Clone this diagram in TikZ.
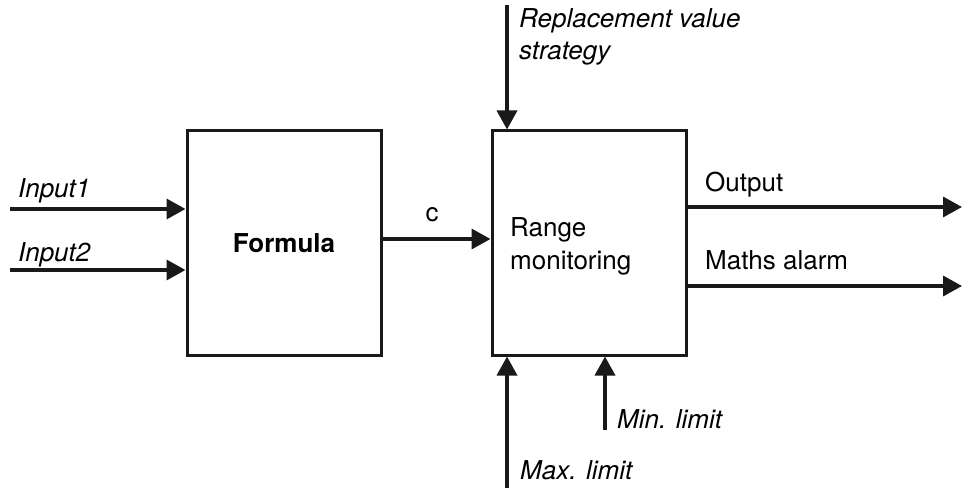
\documentclass[tikz,border=0pt]{standalone}
\usepackage{fontspec}
\setmainfont{TeX Gyre Heros}
\usetikzlibrary{arrows.meta}
\begin{document}
\begin{tikzpicture}[x=1pt,y=1pt,
  blk/.style={draw=black!90,line width=3pt,minimum width=194pt,minimum height=224pt,inner sep=0pt},
  arr/.style={line width=3.5pt,draw=black!90,-{Triangle[length=19pt,width=20pt]}},
  lbl/.style={anchor=base west,inner sep=0pt,font=\fontsize{26}{32}\selectfont},
  lbli/.style={lbl,font=\fontsize{26}{32}\selectfont\itshape}]
\useasboundingbox (0,0) rectangle (966,493);
\node[blk,font=\fontsize{26}{32}\selectfont\bfseries] (formula) at (284,250) {Formula};
\node[blk] (range) at (589,250) {};
\node[lbl] (rangetxt) at (510,256) {Range};
\node[lbl] (montxt) at (510,223) {monitoring};
% inputs
\coordinate (in1) at (10,284);
\coordinate (in2) at (10,223);
\draw[arr] (in1) -- (in1 -| formula.west);
\draw[arr] (in2) -- (in2 -| formula.west);
\node[lbli] (t1) at (18,295) {Input1};
\node[lbli] (t2) at (18,231) {Input2};
% c
\coordinate (cc) at (formula.east |- 0,254);
\draw[arr] (cc) -- (cc -| range.west);
\node[lbl,anchor=base] (ct) at (432,271) {c};
% replacement
\coordinate (rep) at (507,488);
\draw[arr] (rep) -- (rep |- range.north);
\node[lbli] (rt1) at (519,465) {Replacement value};
\node[lbli] (rt2) at (519,433) {strategy};
% outputs
\coordinate (o1) at (962,286);
\coordinate (o2) at (962,207);
\draw[arr] (o1 -| range.east) -- (o1);
\draw[arr] (o2 -| range.east) -- (o2);
\node[lbl] (ot1) at (705,301) {Output};
\node[lbl] (ot2) at (705,223) {Maths alarm};
% limits
\coordinate (mx) at (507,5);
\coordinate (mn) at (605,63);
\draw[arr] (mx) -- (mx |- range.south);
\draw[arr] (mn) -- (mn |- range.south);
\node[lbli] (mnt) at (617,65) {Min. limit};
\node[lbli] (mxt) at (520,14) {Max. limit};
\end{tikzpicture}
\end{document}
